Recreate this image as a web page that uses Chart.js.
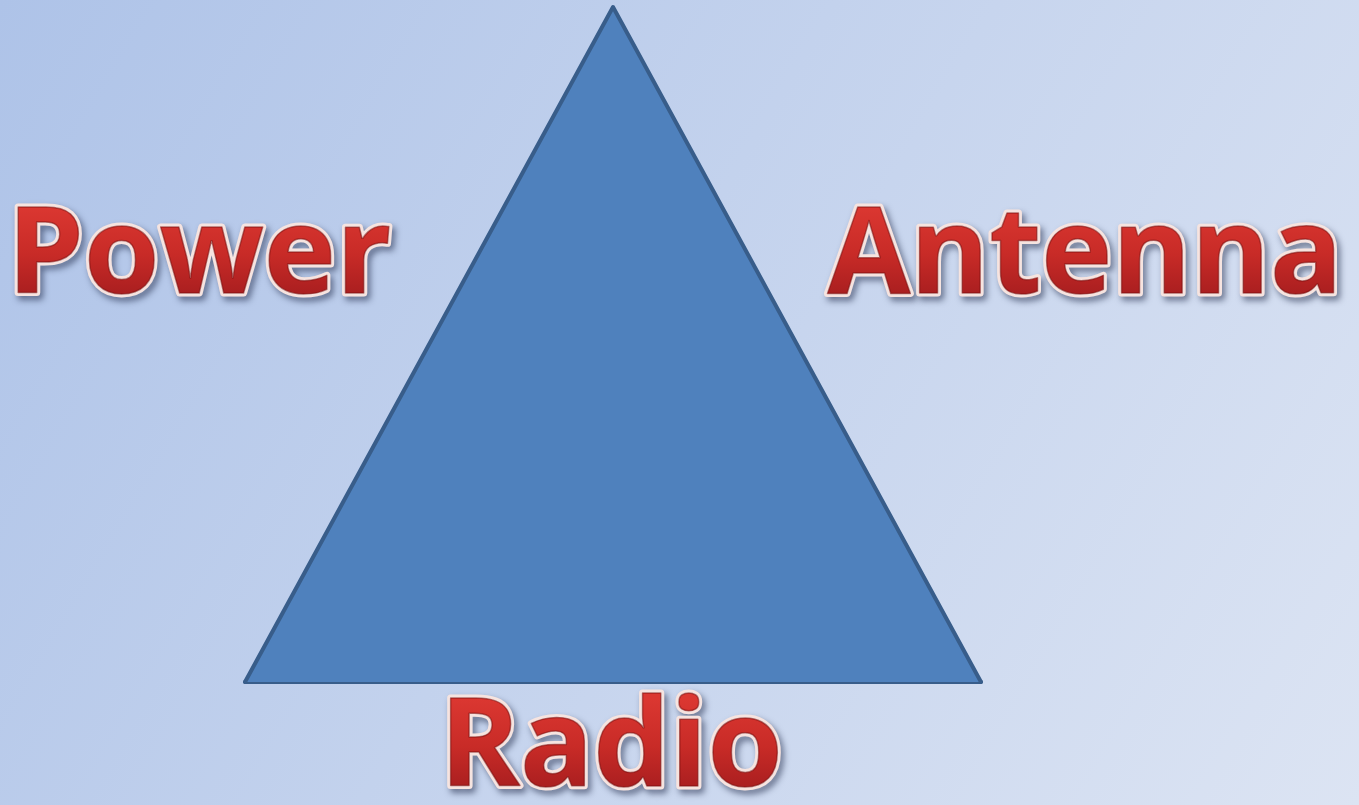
<!DOCTYPE html>
<html>
<head>
<meta charset="utf-8">
<script src="https://cdn.jsdelivr.net/npm/chart.js@4.4.1/dist/chart.umd.min.js"></script>
<style>
  html, body { margin: 0; padding: 0; overflow: hidden; }
  #wrap { width: 1359px; height: 805px; }
</style>
</head>
<body>
<div id="wrap"><canvas id="triangle-chart"></canvas></div>
<script>
// triangle corners (left, top, right) and its base edge
var cornerX = [0, 50, 100];
var cornerY = [0, 100, 0];
var baseX = [0, 100];
var baseY = [0, 0];

// the three words around the triangle
var labels = ['Power', 'Antenna', 'Radio'];

var triangle_chart;

// background gradient of the slide
var backgroundPlugin = {
    id: 'slideBackground',
    beforeDraw: function(chart) {
        var ctx = chart.ctx;
        var g = ctx.createLinearGradient(0, 0, chart.width, chart.height);
        g.addColorStop(0, '#aec3e8');
        g.addColorStop(1, '#dce4f3');
        ctx.save();
        ctx.fillStyle = g;
        ctx.fillRect(0, 0, chart.width, chart.height);
        ctx.restore();
    }
};

// word art labels, placed in data units
var wordPlugin = {
    id: 'wordArt',
    afterDatasetsDraw: function(chart) {
        var ctx = chart.ctx;
        var xs = chart.scales.x, ys = chart.scales.y;
        // left, baseline (data units), width in px, cap height in px
        var spots = [
            { x: -32.3, y: 57.7, w: 384, cap: 86 },
            { x: 79.15, y: 57.7, w: 515, cap: 86 },
            { x: 26.45, y: -15.4, w: 343, cap: 87 }
        ];
        labels.forEach(function(text, i) {
            var s = spots[i];
            var px = xs.getPixelForValue(s.x);
            var py = ys.getPixelForValue(s.y);
            var size = s.cap / 0.714;
            ctx.save();
            ctx.font = 'bold ' + size + 'px "Open Sans"';
            var natural = ctx.measureText(text).width;
            ctx.translate(px, py);
            ctx.scale(s.w / natural, 1);
            ctx.lineJoin = 'round';
            // shadow + light outline
            ctx.shadowColor = 'rgba(20,30,60,0.55)';
            ctx.shadowBlur = 6;
            ctx.shadowOffsetX = 3;
            ctx.shadowOffsetY = 4;
            ctx.strokeStyle = '#f6e4e0';
            ctx.lineWidth = 7;
            ctx.strokeText(text, 0, 0);
            ctx.shadowColor = 'transparent';
            // red body
            var g = ctx.createLinearGradient(0, -s.cap, 0, 0);
            g.addColorStop(0, '#db3731');
            g.addColorStop(0.55, '#c82b27');
            g.addColorStop(1, '#ab1f20');
            ctx.fillStyle = g;
            ctx.fillText(text, 0, 0);
            // soft bevel edge
            ctx.strokeStyle = 'rgba(120,15,15,0.55)';
            ctx.lineWidth = 1.5;
            ctx.strokeText(text, 0, 0);
            ctx.restore();
        });
    }
};

function toPoints(xs, ys) {
    return xs.map(function(x, i) { return { x: x, y: ys[i] }; });
}

window.onload = function() {
    var ctx = document.getElementById('triangle-chart').getContext('2d');
    triangle_chart = new Chart(ctx, {
        type: 'scatter',
        data: {
            datasets: [
                {
                    label: 'Triangle',
                    data: toPoints(cornerX, cornerY),
                    showLine: true,
                    fill: 'origin',
                    backgroundColor: '#4f81bd',
                    borderColor: '#385d8a',
                    borderWidth: 4,
                    borderJoinStyle: 'round',
                    borderCapStyle: 'round',
                    pointRadius: 0,
                    tension: 0
                },
                {
                    label: 'Base',
                    data: toPoints(baseX, baseY),
                    showLine: true,
                    fill: false,
                    borderColor: '#385d8a',
                    borderWidth: 4,
                    borderCapStyle: 'round',
                    pointRadius: 0
                }
            ]
        },
        plugins: [backgroundPlugin, wordPlugin],
        options: {
            responsive: true,
            maintainAspectRatio: false,
            animation: false,
            layout: { padding: 0 },
            plugins: {
                legend: { display: false },
                tooltip: { enabled: false },
                filler: { propagate: false }
            },
            scales: {
                x: { type: 'linear', display: false, min: -33.29, max: 151.36 },
                y: { type: 'linear', display: false, min: -18.22, max: 101.04 }
            }
        }
    });
};
</script>
</body>
</html>
